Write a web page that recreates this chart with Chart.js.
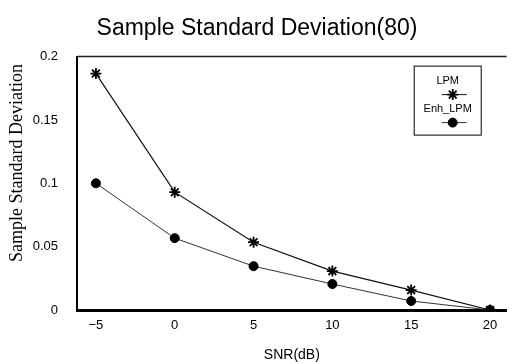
<!DOCTYPE html>
<html>
<head>
<meta charset="utf-8">
<script src="https://cdn.jsdelivr.net/npm/chart.js@4.4.1/dist/chart.umd.min.js"></script>
<style>
  html, body { margin: 0; padding: 0; background: #fff; }
  canvas { display: block; }
</style>
</head>
<body>
<canvas id="sdChart" width="514" height="364"></canvas>
<script>
// values
const snr = [-5, 0, 5, 10, 15, 20];
const lpm = [0.1866, 0.093, 0.0535, 0.0307, 0.0157, 0];
const enhLpm = [0.100, 0.0567, 0.0346, 0.0205, 0.0071, 0];
const xTicks = [-5, 0, 5, 10, 15, 20];
const yTicks = [0, 0.05, 0.1, 0.15, 0.2];
const yTitle = 'Sample Standard Deviation';

const sans = '"Liberation Sans", Arial, sans-serif';
const serif = '"Liberation Serif", "Times New Roman", serif';

// top frame line + rotated y title (sits a bit above the axis middle in the original)
const frameExtras = {
  id: 'frameExtras',
  afterDraw(chart) {
    const { ctx, chartArea } = chart;
    ctx.save();
    ctx.strokeStyle = '#222';
    ctx.lineWidth = 1.5;
    ctx.beginPath();
    ctx.moveTo(chartArea.left, chartArea.top);
    ctx.lineTo(chartArea.right, chartArea.top);
    ctx.stroke();

    ctx.translate(17, 163);
    ctx.rotate(-Math.PI / 2);
    ctx.font = '18px ' + serif;
    ctx.fillStyle = '#000';
    ctx.textAlign = 'center';
    ctx.textBaseline = 'middle';
    ctx.fillText(yTitle, 0, 0);
    ctx.restore();
  }
};

// boxed legend in the top right corner
const legendBox = {
  id: 'legendBox',
  afterDraw(chart) {
    const { ctx, chartArea } = chart;
    const w = 67, h = 69;
    const x0 = chartArea.right - 93, y0 = chartArea.top + 9;
    ctx.save();
    ctx.fillStyle = '#fff';
    ctx.fillRect(x0, y0, w, h);
    ctx.strokeStyle = '#000';
    ctx.lineWidth = 1;
    ctx.strokeRect(x0 + 0.5, y0 + 0.5, w, h);
    ctx.font = '11px ' + sans;
    ctx.textAlign = 'center';
    ctx.textBaseline = 'middle';
    chart.data.datasets.forEach((ds, i) => {
      const ty = y0 + 15 + i * 28;
      ctx.fillStyle = '#000';
      ctx.fillText(ds.label, x0 + 34, ty);
      const ly = ty + 14;
      ctx.strokeStyle = ds.borderColor;
      ctx.lineWidth = 1;
      ctx.beginPath();
      ctx.moveTo(x0 + 28, ly);
      ctx.lineTo(x0 + 53, ly);
      ctx.stroke();
      ctx.fillStyle = ds.pointBackgroundColor;
      ctx.strokeStyle = ds.pointBorderColor;
      ctx.lineWidth = ds.pointBorderWidth;
      Chart.helpers.drawPoint(ctx, {
        pointStyle: ds.pointStyle,
        radius: ds.pointRadius,
        borderWidth: ds.pointBorderWidth,
        rotation: 0
      }, x0 + 39, ly);
    });
    ctx.restore();
  }
};

new Chart(document.getElementById('sdChart').getContext('2d'), {
  type: 'line',
  data: {
    datasets: [{
      label: 'LPM',
      data: snr.map((x, i) => ({ x: x, y: lpm[i] })),
      borderColor: '#111',
      borderWidth: 1.2,
      pointStyle: 'star',
      pointRadius: 5.5,
      pointBorderWidth: 1.8,
      pointBorderColor: '#000',
      pointBackgroundColor: '#000',
      tension: 0
    }, {
      label: 'Enh_LPM',
      data: snr.map((x, i) => ({ x: x, y: enhLpm[i] })),
      borderColor: '#333',
      borderWidth: 1,
      pointStyle: 'circle',
      pointRadius: 4.5,
      pointBorderWidth: 1,
      pointBorderColor: '#000',
      pointBackgroundColor: '#000',
      tension: 0
    }]
  },
  options: {
    responsive: false,
    animation: false,
    layout: { padding: 0 },
    plugins: {
      legend: { display: false },
      tooltip: { enabled: false },
      title: {
        display: true,
        text: 'Sample Standard Deviation(80)',
        color: '#000',
        font: { family: sans, size: 23, weight: 'normal' },
        padding: { top: 15, bottom: 14 }
      }
    },
    scales: {
      x: {
        type: 'linear',
        min: -6.2,
        max: 21.06,
        afterBuildTicks: axis => { axis.ticks = xTicks.map(v => ({ value: v })); },
        afterFit: axis => { axis.height = 54; },
        grid: { display: false, drawTicks: false },
        border: { display: true, color: '#000', width: 3 },
        ticks: {
          color: '#000',
          padding: 8,
          font: { family: sans, size: 13 },
          callback: v => (v < 0 ? '\u2212' + Math.abs(v) : String(v))
        },
        title: {
          display: true,
          text: 'SNR(dB)',
          color: '#000',
          font: { family: sans, size: 14 },
          padding: { top: 2, bottom: 0 }
        }
      },
      y: {
        min: 0,
        max: 0.2,
        afterBuildTicks: axis => { axis.ticks = yTicks.map(v => ({ value: v })); },
        afterFit: axis => { axis.width = 77; },
        grid: { display: false, drawTicks: false },
        border: { display: true, color: '#000', width: 2 },
        ticks: {
          color: '#000',
          padding: 19,
          font: { family: sans, size: 13 },
          callback: v => String(+v.toFixed(2))
        }
      }
    }
  },
  plugins: [frameExtras, legendBox]
});
</script>
</body>
</html>
